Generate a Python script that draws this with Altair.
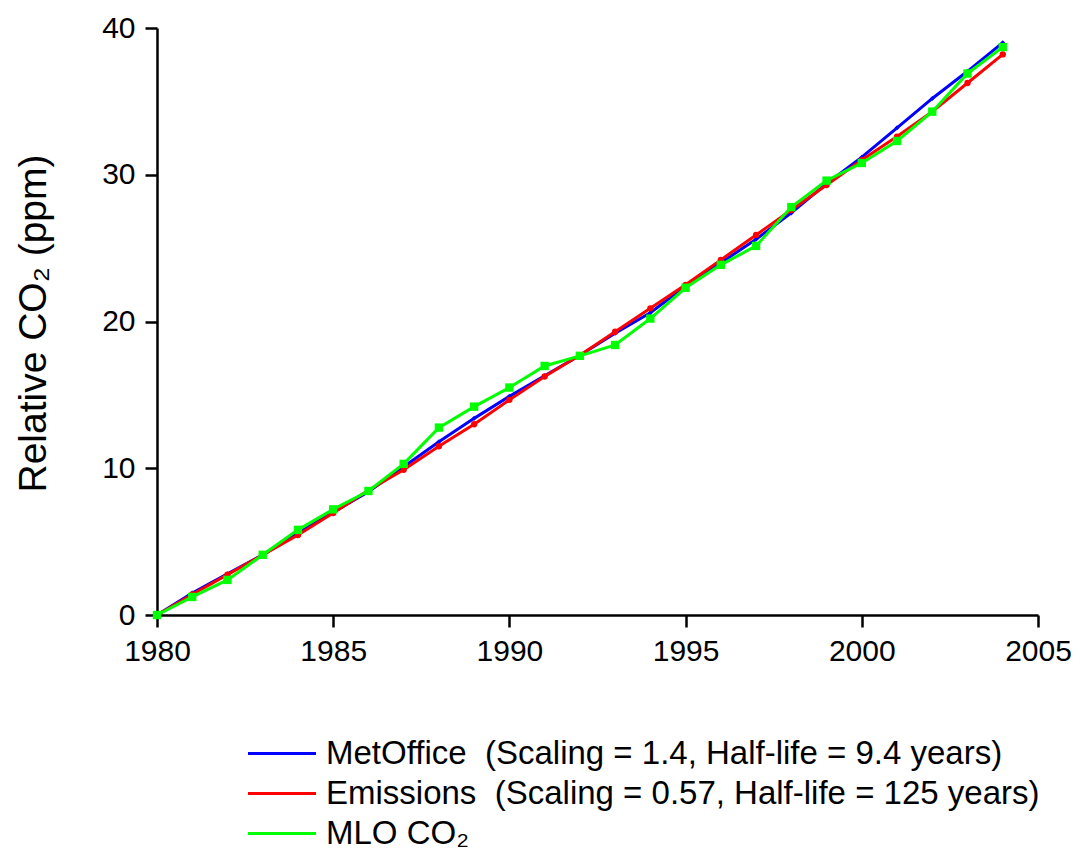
import altair as alt
import pandas as pd

years = list(range(1980, 2005))
metoffice = [0, 1.5, 2.8, 4.1, 5.6, 7.0, 8.4, 10.1, 11.8, 13.4, 14.9, 16.3, 17.7, 19.2, 20.6,
             22.4, 24.0, 25.6, 27.4, 29.4, 31.2, 33.2, 35.2, 37.05, 39.0]
emissions = [0, 1.4, 2.75, 4.1, 5.45, 6.95, 8.5, 9.9, 11.5, 13.0, 14.66, 16.25, 17.7, 19.3, 20.9,
             22.5, 24.2, 25.9, 27.6, 29.3, 31.0, 32.6, 34.3, 36.25, 38.2]
mlo = [0, 1.23, 2.39, 4.1, 5.8, 7.2, 8.45, 10.3, 12.77, 14.2, 15.5, 16.97, 17.66, 18.4, 20.2,
       22.3, 23.86, 25.15, 27.8, 29.6, 30.8, 32.3, 34.3, 36.9, 38.7]

series_names = [
    "MetOffice \u00a0(Scaling = 1.4, Half-life = 9.4 years)",
    "Emissions \u00a0(Scaling = 0.57, Half-life = 125 years)",
    "MLO CO\u2082",
]
series_colors = ["#0000FF", "#FF0000", "#00FF00"]
series_values = [metoffice, emissions, mlo]

rows = []
for order, (name, vals) in enumerate(zip(series_names, series_values)):
    for y, v in zip(years, vals):
        rows.append({"year": y, "value": v, "series": name, "order": order})
df = pd.DataFrame(rows)

FONT = "Liberation Sans"

x = alt.X("year:Q",
          scale=alt.Scale(domain=[1980, 2005], nice=False, zero=False),
          axis=alt.Axis(values=[1980, 1985, 1990, 1995, 2000, 2005], format="d",
                        title=None, grid=False, labelFontSize=30, labelFont=FONT,
                        labelColor="#000000", labelPadding=9, tickSize=12,
                        tickWidth=2.5, tickColor="#000000", domainColor="#000000",
                        domainWidth=2.5, labelFlush=False))
y = alt.Y("value:Q",
          scale=alt.Scale(domain=[0, 40], nice=False),
          axis=alt.Axis(values=[0, 10, 20, 30, 40], title="Relative CO\u2082 (ppm)",
                        grid=False, labelFontSize=30, labelFont=FONT, labelColor="#000000",
                        labelPadding=10, tickSize=12, tickWidth=2.5, tickColor="#000000",
                        domainColor="#000000", domainWidth=2.5,
                        titleFont=FONT, titleFontSize=39, titleFontWeight="normal",
                        titleColor="#000000", titleX=-124, titleY=295,
                        titleAlign="center", titleBaseline="middle", titleAngle=270))

color = alt.Color("series:N",
                  scale=alt.Scale(domain=series_names, range=series_colors),
                  sort=series_names,
                  legend=alt.Legend(title=None, orient="none", legendX=108.5, legendY=709,
                                    labelFont=FONT, labelFontSize=33, labelColor="#000000",
                                    symbolType="M-4,0H4", symbolSize=289,
                                    symbolStrokeWidth=3, labelOffset=27.5, rowPadding=6,
                                    padding=0, labelLimit=900))

base = alt.Chart(df)
layers = []
shapes = ["diamond", "circle", "square"]
sizes = [25, 40, 70]
for name, col, shp, sz in zip(series_names, series_colors, shapes, sizes):
    sub = base.transform_filter(alt.datum.series == name)
    line = sub.mark_line(strokeWidth=3).encode(x=x, y=y, color=color)
    pts = sub.mark_point(filled=True, shape=shp, size=sz, opacity=1).encode(
        x=x, y=y, color=alt.Color("series:N", scale=alt.Scale(domain=series_names, range=series_colors), legend=None))
    layers += [line, pts]

chart = alt.layer(*layers).properties(
    width=881, height=587,
    autosize=alt.AutoSizeParams(type="none"),
    padding={"left": 149, "top": 20, "right": 36, "bottom": 236},
    background="#FFFFFF",
).configure_view(stroke=None)

chart.save("out.html", embed_options={"renderer": "svg", "actions": False})
